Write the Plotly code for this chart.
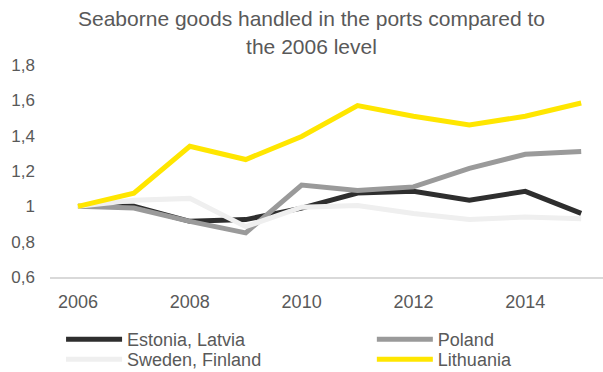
import plotly.graph_objects as go

years = [2006, 2007, 2008, 2009, 2010, 2011, 2012, 2013, 2014, 2015]
estonia_latvia = [1.00, 1.00, 0.915, 0.925, 0.99, 1.075, 1.085, 1.035, 1.085, 0.96]
poland = [1.00, 0.99, 0.915, 0.85, 1.12, 1.09, 1.11, 1.215, 1.295, 1.31]
sweden_finland = [1.00, 1.035, 1.045, 0.885, 0.995, 1.005, 0.96, 0.925, 0.94, 0.93]
lithuania = [1.00, 1.075, 1.34, 1.265, 1.395, 1.57, 1.51, 1.46, 1.51, 1.585]

series = [
    ("Estonia, Latvia", estonia_latvia, "#2e2e2e", "legend"),
    ("Poland", poland, "#9a9a9a", "legend2"),
    ("Sweden, Finland", sweden_finland, "#efefef", "legend3"),
    ("Lithuania", lithuania, "#ffe600", "legend4"),
]

tick_years = [2006, 2008, 2010, 2012, 2014]
y_ticks = [0.6, 0.8, 1.0, 1.2, 1.4, 1.6, 1.8]

fig = go.Figure()
for name, vals, col, lg in series:
    fig.add_trace(go.Scatter(x=years, y=vals, name=name, mode="lines",
                             line=dict(color=col, width=5), legend=lg))

font_col = "#595959"
leg_common = dict(orientation="v", xanchor="left", yanchor="top", itemwidth=56,
                  font=dict(size=18, color=font_col), traceorder="normal",
                  tracegroupgap=0, bgcolor="rgba(0,0,0,0)")
fig.update_layout(
    width=603, height=372,
    margin=dict(l=50, r=0, t=65, b=95, autoexpand=False),
    paper_bgcolor="white", plot_bgcolor="white",
    separators=", ",
    font=dict(family="Liberation Sans, Arial, sans-serif", size=17, color=font_col),
    title=dict(text="Seaborne goods handled in the ports compared to<br>the 2006 level",
               x=0.5166, xanchor="center", y=0.929, yanchor="middle",
               font=dict(size=21, color=font_col)),
    showlegend=True,
    legend=dict(x=0.02, y=-0.2075, **leg_common),
    legend2=dict(x=0.582, y=-0.2075, **leg_common),
    legend3=dict(x=0.02, y=-0.302, **leg_common),
    legend4=dict(x=0.582, y=-0.302, **leg_common),
    xaxis=dict(range=[2005.5, 2015.39], tickvals=tick_years, ticktext=[str(t) for t in tick_years],
               showgrid=False, zeroline=False, showline=True, linecolor="#d9d9d9", linewidth=1.5,
               ticks="", ticklabelstandoff=8, tickfont=dict(size=18, color=font_col)),
    yaxis=dict(range=[0.6, 1.8], tickvals=y_ticks, showgrid=False, zeroline=False,
               showline=False, ticks="", ticklabelstandoff=14, tickfont=dict(size=17, color=font_col)),
)

fig.write_html("out.html")
